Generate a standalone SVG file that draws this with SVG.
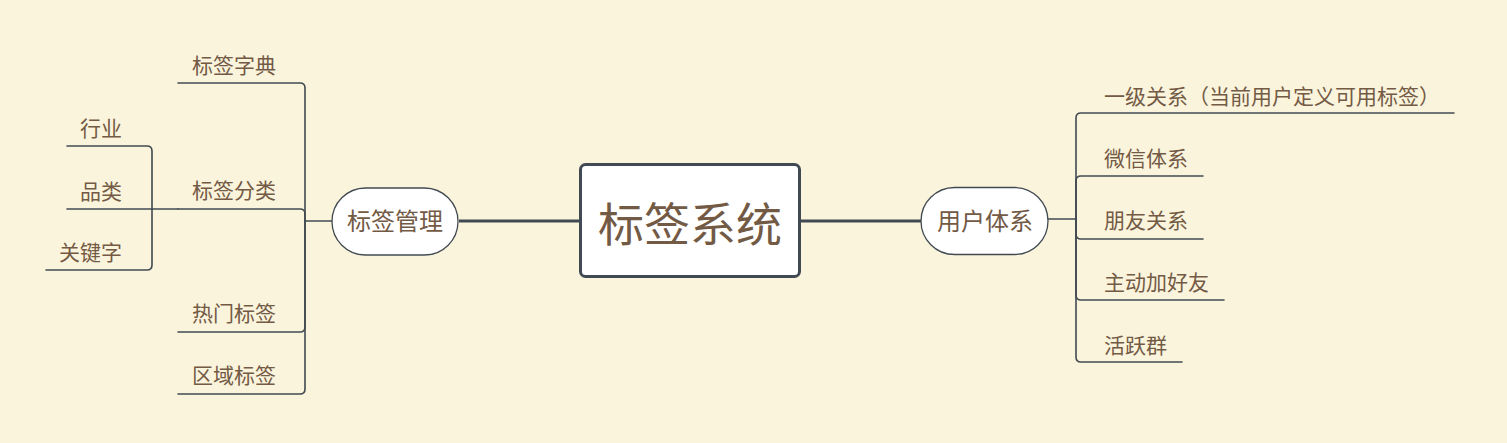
<svg xmlns="http://www.w3.org/2000/svg" width="1507" height="443" viewBox="0 0 1507 443">
<style>
.bg{fill:#FBF4DC}
.ln{fill:none;stroke:#414A52;stroke-width:1.6;stroke-linecap:round}
.thick{fill:none;stroke:#414A52;stroke-width:3}
.t{font-family:"Microsoft YaHei","Noto Sans CJK SC",sans-serif;fill:#735A45}
.s{font-size:21px}
.p{font-size:24px;text-anchor:middle}
.c{font-size:46px;text-anchor:middle}
.pill{fill:#FFFFFF;stroke:#414A52;stroke-width:1.3}
</style>
<rect class="bg" x="0" y="0" width="1507" height="443"/>
<g id="connectors">
<path class="thick" d="M459,221 H580"/>
<path class="thick" d="M800,221 H921"/>
<path class="ln" d="M332,221 H305"/>
<path class="ln" d="M305,221 V88 Q305,83 300,83 H178"/>
<path class="ln" d="M305,221 V214 Q305,209 300,209 H178"/>
<path class="ln" d="M305,221 V327 Q305,332 300,332 H178"/>
<path class="ln" d="M305,221 V389 Q305,394 300,394 H178"/>
<path class="ln" d="M178,209 H152"/>
<path class="ln" d="M152,209 V151 Q152,146 147,146 H67"/>
<path class="ln" d="M152,209 H67"/>
<path class="ln" d="M152,209 V265 Q152,270 147,270 H46"/>
<path class="ln" d="M1048,219 H1076"/>
<path class="ln" d="M1076,219 V118 Q1076,113 1081,113 H1454"/>
<path class="ln" d="M1076,219 V181 Q1076,176 1081,176 H1203"/>
<path class="ln" d="M1076,219 V234 Q1076,239 1081,239 H1203"/>
<path class="ln" d="M1076,219 V295 Q1076,300 1081,300 H1224"/>
<path class="ln" d="M1076,219 V357 Q1076,362 1081,362 H1182"/>
</g>
<g id="root">
<rect x="580.5" y="164.5" width="219" height="112" rx="5" fill="#FFFFFF" stroke="#414A52" stroke-width="3"/>
<text class="t c" x="690" y="241">标签系统</text>
</g>
<g id="n-biaoqianguanli">
<rect class="pill" x="332" y="188" width="126" height="67" rx="33.5"/>
<text class="t p" x="395" y="230">标签管理</text>
</g>
<g id="n-yonghutixi">
<rect class="pill" x="921" y="187.5" width="127" height="67" rx="33.5"/>
<text class="t p" x="985" y="230">用户体系</text>
</g>
<g id="n-zidian"><text class="t s" x="192" y="73">标签字典</text></g>
<g id="n-fenlei"><text class="t s" x="192" y="198">标签分类</text></g>
<g id="n-remen"><text class="t s" x="192" y="321">热门标签</text></g>
<g id="n-quyu"><text class="t s" x="192" y="383">区域标签</text></g>
<g id="n-hangye"><text class="t s" x="80" y="136">行业</text></g>
<g id="n-pinlei"><text class="t s" x="80" y="199">品类</text></g>
<g id="n-guanjianzi"><text class="t s" x="59" y="260">关键字</text></g>
<g id="n-yiji"><text class="t s" x="1104" y="104">一级关系（当前用户定义可用标签）</text></g>
<g id="n-weixin"><text class="t s" x="1104" y="166">微信体系</text></g>
<g id="n-pengyou"><text class="t s" x="1104" y="228">朋友关系</text></g>
<g id="n-zhudong"><text class="t s" x="1104" y="290">主动加好友</text></g>
<g id="n-huoyue"><text class="t s" x="1104" y="353">活跃群</text></g>
</svg>
